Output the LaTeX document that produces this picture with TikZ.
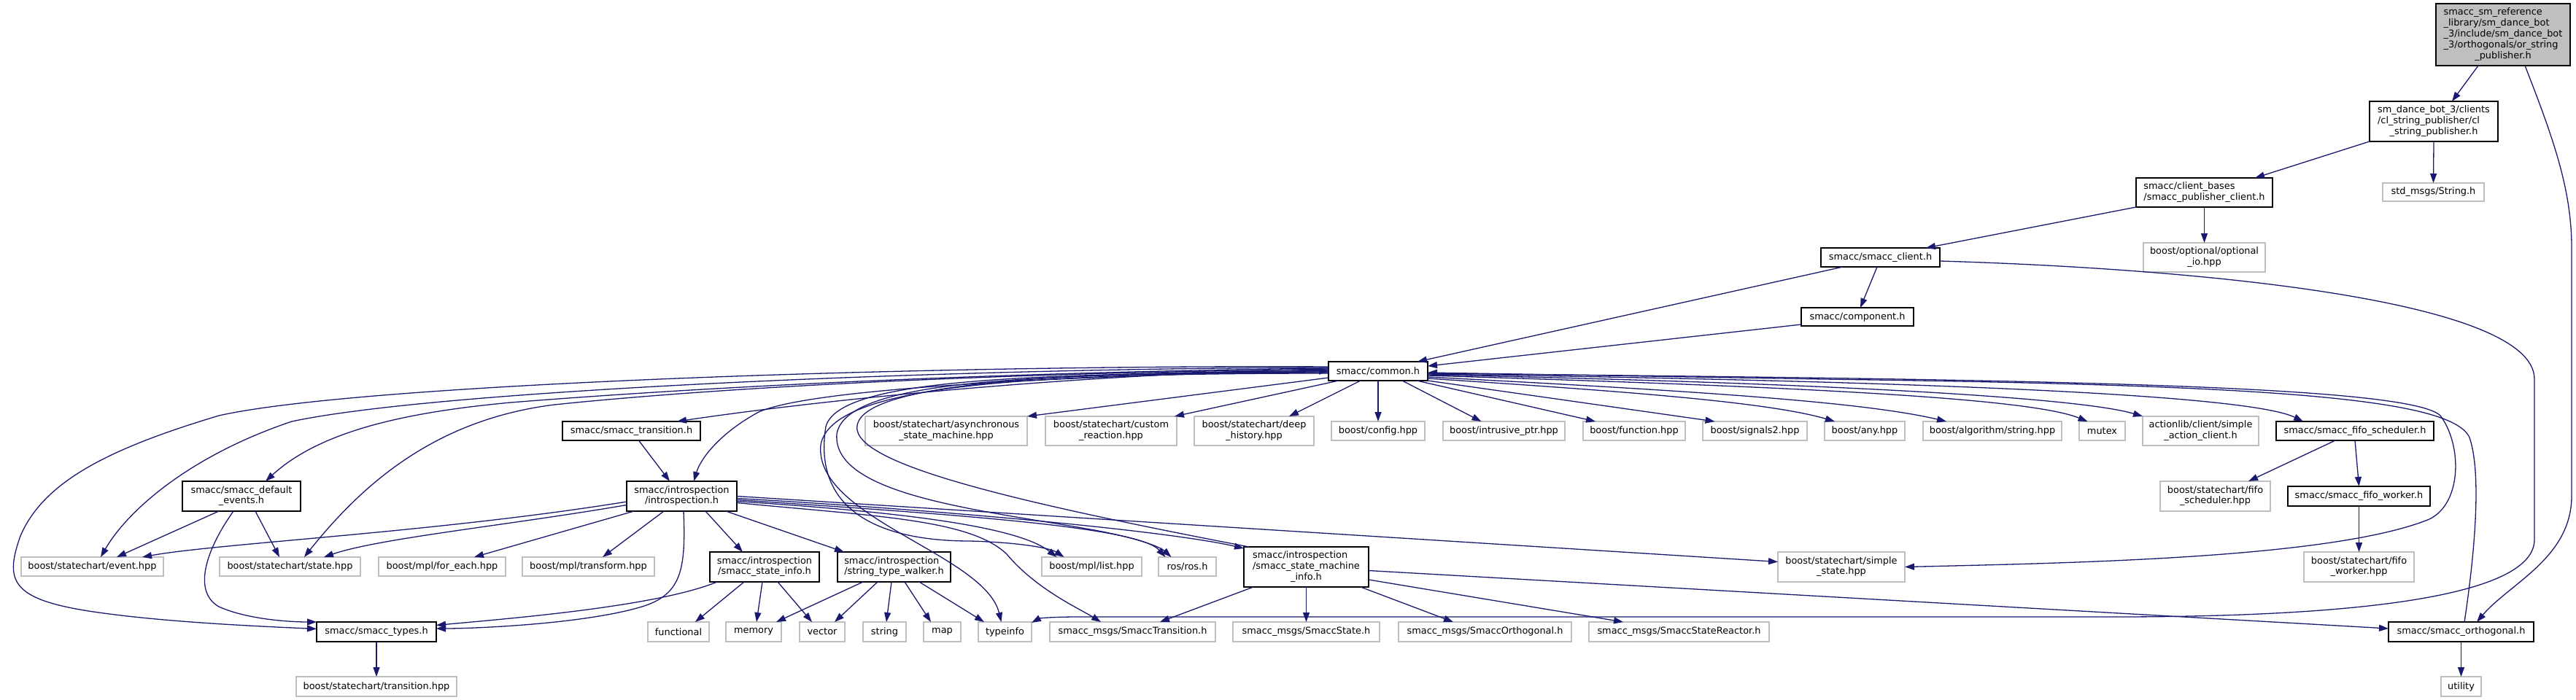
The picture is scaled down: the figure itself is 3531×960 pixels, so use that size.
\documentclass[tikz,border=0pt]{standalone}
\usepackage{fontspec}
\setmainfont{DejaVu Sans}
\usetikzlibrary{arrows.meta}
\definecolor{edgec}{HTML}{191970}
\definecolor{grayb}{HTML}{BFBFBF}
\definecolor{rootfill}{HTML}{BFBFBF}
\newcommand\nodefont{\fontsize{12.9}{14.8}\selectfont}
\newcommand\mlab[2]{\begin{tabular}{@{}l@{}}#1\\\multicolumn{1}{@{}c@{}}{#2}\end{tabular}}
\newcommand\mknode[7]{\node[#6, minimum width={(#4)-(#2)}, minimum height={(#5)-(#3)}] (#1) at ({((#2)+(#4))/2},{((#3)+(#5))/2}) {#7};}
\tikzset{
  edge/.style={draw=edgec, line width=1.3pt, -{Triangle[length=13pt,width=9pt]}},
  doc/.style={draw=black, fill=white, line width=1.3pt, inner sep=0pt, outer sep=0pt, font=\nodefont},
  ext/.style={draw=grayb, fill=white, line width=1.3pt, inner sep=0pt, outer sep=0pt, font=\nodefont},
  rootn/.style={doc, fill=rootfill}
}
\begin{document}
\begin{tikzpicture}[x=1pt,y=-1pt]
\useasboundingbox (0,0) rectangle (3531,960);
\fill[white] (0,0) rectangle (3531,960);
% rank 0-5
\mknode{root}{3339}{5}{3523}{90}{rootn}{\mlab{smacc\_sm\_reference\\\_library/sm\_dance\_bot\\\_3/include/sm\_dance\_bot\\\_3/orthogonals/or\_string}{\_publisher.h}}
\mknode{clpub}{3248}{139}{3424}{194}{doc}{\mlab{sm\_dance\_bot\_3/clients\\/cl\_string\_publisher/cl}{\_string\_publisher.h}}
\mknode{pubcl}{2928}{244}{3115}{284}{doc}{\mlab{smacc/client\_bases}{/smacc\_publisher\_client.h}}
\mknode{stdstr}{3266}{251}{3405}{276}{ext}{std\_msgs/String.h}
\mknode{client}{2496}{340}{2659}{366}{doc}{smacc/smacc\_client.h}
\mknode{optio}{2938}{333}{3105}{373}{ext}{\mlab{boost/optional/optional}{\_io.hpp}}
\mknode{comp}{2469}{422}{2623}{447}{doc}{smacc/component.h}
\mknode{common}{1821}{496}{1957}{522}{doc}{smacc/common.h}
% rank 6
\mknode{trans}{771}{578}{960}{604}{doc}{smacc/smacc\_transition.h}
\mknode{async}{1186}{571}{1408}{611}{ext}{\mlab{boost/statechart/asynchronous}{\_state\_machine.hpp}}
\mknode{custom}{1433}{571}{1613}{611}{ext}{\mlab{boost/statechart/custom}{\_reaction.hpp}}
\mknode{deep}{1637}{571}{1801}{611}{ext}{\mlab{boost/statechart/deep}{\_history.hpp}}
\mknode{config}{1825}{578}{1953}{604}{ext}{boost/config.hpp}
\mknode{intr}{1978}{578}{2145}{604}{ext}{boost/intrusive\_ptr.hpp}
\mknode{func}{2170}{578}{2310}{604}{ext}{boost/function.hpp}
\mknode{sig}{2334}{578}{2477}{604}{ext}{boost/signals2.hpp}
\mknode{any}{2501}{578}{2611}{604}{ext}{boost/any.hpp}
\mknode{algo}{2636}{578}{2826}{604}{ext}{boost/algorithm/string.hpp}
\mknode{mutex}{2850}{578}{2913}{604}{ext}{mutex}
\mknode{actl}{2937}{571}{3096}{611}{ext}{\mlab{actionlib/client/simple}{\_action\_client.h}}
\mknode{fifos}{3120}{578}{3336}{604}{doc}{smacc/smacc\_fifo\_scheduler.h}
% rank 7
\mknode{defev}{250}{660}{412}{701}{doc}{\mlab{smacc/smacc\_default}{\_events.h}}
\mknode{intro}{859}{660}{1010}{701}{doc}{\mlab{smacc/introspection}{/introspection.h}}
\mknode{fifosh}{2961}{660}{3112}{701}{ext}{\mlab{boost/statechart/fifo}{\_scheduler.hpp}}
\mknode{fifow}{3136}{667}{3331}{694}{doc}{smacc/smacc\_fifo\_worker.h}
% rank 8
\mknode{event}{29}{764}{224}{790}{ext}{boost/statechart/event.hpp}
\mknode{state}{301}{764}{494}{790}{ext}{boost/statechart/state.hpp}
\mknode{foreach}{519}{764}{693}{790}{ext}{boost/mpl/for\_each.hpp}
\mknode{transf}{716}{764}{897}{790}{ext}{boost/mpl/transform.hpp}
\mknode{sinfo}{973}{757}{1123}{798}{doc}{\mlab{smacc/introspection}{/smacc\_state\_info.h}}
\mknode{stw}{1148}{757}{1303}{798}{doc}{\mlab{smacc/introspection}{/string\_type\_walker.h}}
\mknode{list}{1428}{764}{1565}{790}{ext}{boost/mpl/list.hpp}
\mknode{ros}{1588}{764}{1667}{790}{ext}{ros/ros.h}
\mknode{smi}{1705}{750}{1876}{805}{doc}{\mlab{smacc/introspection\\/smacc\_state\_machine}{\_info.h}}
\mknode{simple}{2437}{757}{2611}{798}{ext}{\mlab{boost/statechart/simple}{\_state.hpp}}
\mknode{fifowh}{3158}{757}{3309}{798}{ext}{\mlab{boost/statechart/fifo}{\_worker.hpp}}
% rank 9
\mknode{types}{434}{853}{598}{880}{doc}{smacc/smacc\_types.h}
\mknode{functional}{888}{853}{972}{880}{ext}{functional}
\mknode{memory}{995}{853}{1071}{880}{ext}{memory}
\mknode{vector}{1096}{853}{1158}{880}{ext}{vector}
\mknode{string}{1183}{853}{1242}{880}{ext}{string}
\mknode{map}{1266}{853}{1317}{880}{ext}{map}
\mknode{typeinfo}{1341}{853}{1414}{880}{ext}{typeinfo}
\mknode{msgT}{1439}{853}{1666}{880}{ext}{smacc\_msgs/SmaccTransition.h}
\mknode{msgS}{1690}{853}{1891}{880}{ext}{smacc\_msgs/SmaccState.h}
\mknode{msgO}{1917}{853}{2154}{880}{ext}{smacc\_msgs/SmaccOrthogonal.h}
\mknode{msgR}{2178}{853}{2425}{880}{ext}{smacc\_msgs/SmaccStateReactor.h}
\mknode{orth}{3274}{853}{3473}{880}{doc}{smacc/smacc\_orthogonal.h}
% rank 10
\mknode{transhpp}{406}{928}{626}{955}{ext}{boost/statechart/transition.hpp}
\mknode{utility}{3346}{928}{3401}{955}{ext}{utility}

% ---- edges: top part
\draw[edge] ([xshift=-34pt]root.south) -- ([xshift=25pt]clpub.north);
\draw[edge] ([xshift=30pt]root.south) .. controls (3500,190) and (3525,260) .. (3525,340) -- (3525,680) .. controls (3525,765) and (3440,800) .. ([xshift=21.5pt]orth.north);
\draw[edge] (clpub.south west) -- ([xshift=69.5pt]pubcl.north);
\draw[edge] (clpub.south) -- (stdstr.north);
\draw[edge] (pubcl.south west) -- ([xshift=62.5pt]client.north);
\draw[edge] (pubcl.south) -- (optio.north);
\draw[edge] ([xshift=-4.5pt]client.south) -- ([xshift=4pt]comp.north);
\draw[edge] ([xshift=-51.5pt]client.south) -- ([xshift=54pt]common.north);
\draw[edge] ([yshift=2pt]comp.south west) -- ([yshift=7pt]common.east);
\draw[edge] ([yshift=-5pt]client.east) .. controls (3000,368) and (3474,410) .. (3474,520) -- (3474,740) .. controls (3474,830) and (3150,846) .. (2900,846) -- (1480,846) .. controls (1440,846) and (1425,848) .. ([yshift=-1pt]typeinfo.north east);
\draw[edge] ([xshift=4.5pt]orth.north) .. controls (3392,760) and (3402,650) .. (3385,600) .. controls (3360,545) and (3100,528) .. (2500,520) -- ([yshift=-2pt]common.east);
% common -> right
\draw[edge] ([yshift=-3pt]common.east) .. controls (2700,520) and (3300,525) .. (3345,570) .. controls (3375,610) and (3375,690) .. (3330,712) .. controls (3200,765) and (2850,772) .. (simple.east);
\draw[edge] ([yshift=-4pt]common.east) .. controls (2600,522) and (3080,540) .. ([xshift=-71pt]fifos.north);
\draw[edge] ([yshift=-5pt]common.east) .. controls (2500,525) and (2850,545) .. (actl.north west);
\draw[edge] ([yshift=-6pt]common.east) .. controls (2450,530) and (2780,545) .. ([xshift=-20pt]mutex.north);
\draw[edge] ([yshift=-8pt]common.east) .. controls (2300,535) and (2550,550) .. ([xshift=-63pt]algo.north);
\draw[edge] ([yshift=-10pt]common.east) .. controls (2200,535) and (2420,550) .. ([xshift=-41pt]any.north);
\draw[edge] (common.south east) -- ([xshift=-55pt]sig.north);
\draw[edge] ([xshift=53pt]common.south) -- ([xshift=-53pt]func.north);
\draw[edge] ([xshift=33pt]common.south) -- ([xshift=-31pt]intr.north);
\draw[edge] (common.south) -- (config.north);
\draw[edge] ([xshift=-24pt]common.south) -- ([xshift=48pt]deep.north);
\draw[edge] ([xshift=-54pt]common.south) -- ([xshift=-3pt]custom.north east);
\draw[edge] ([yshift=4pt]common.south west) -- (async.north east);
% common -> left
\draw[edge] ([yshift=3pt]common.west) .. controls (1500,512) and (1150,545) .. ([xshift=62.5pt]trans.north);
\draw[edge] ([yshift=1pt]common.west) .. controls (1500,515) and (1120,530) .. (1040,565) .. controls (985,595) and (960,630) .. ([xshift=16.5pt]intro.north);
\draw[edge] ([yshift=4pt]common.west) .. controls (1400,510) and (1000,528) .. (700,552) .. controls (560,565) and (440,590) .. ([xshift=33pt]defev.north);
\draw[edge] ([yshift=2pt]common.west) .. controls (1400,510) and (1000,530) .. (760,555) .. controls (600,575) and (500,660) .. ([xshift=19.5pt]state.north);
\draw[edge] ([yshift=5pt]common.west) .. controls (1300,505) and (600,535) .. (400,578) .. controls (260,625) and (175,700) .. ([xshift=11.5pt]event.north);
\draw[edge] ([yshift=6pt]common.west) .. controls (1300,500) and (500,525) .. (300,570) .. controls (150,615) and (60,660) .. (28,735) .. controls (5,800) and (15,825) .. (150,842) .. controls (250,855) and (380,860) .. ([yshift=4pt]types.west);
\draw[edge] ([yshift=-1pt]common.west) .. controls (1400,512) and (1150,520) .. (1132,585) .. controls (1115,690) and (1190,742) .. (1330,742) .. controls (1400,744) and (1440,752) .. ([xshift=-38pt]list.north);
\draw[edge] ([yshift=-2pt]common.west) .. controls (1400,512) and (1160,522) .. (1147,595) .. controls (1140,680) and (1350,700) .. (1500,727) .. controls (1560,738) and (1590,750) .. ([xshift=-22pt]ros.north);
\draw[edge] ([yshift=-3pt]common.west) .. controls (1400,512) and (1140,528) .. (1125,610) .. controls (1115,710) and (1350,760) .. ([xshift=-5pt]typeinfo.north);
\draw[edge] ([xshift=7pt]smi.north west) .. controls (1400,690) and (1185,640) .. (1175,590) .. controls (1165,525) and (1450,510) .. (common.west);
% introspection.h
\draw[edge] ([yshift=-7.5pt]intro.west) .. controls (600,730) and (300,745) .. ([xshift=68.5pt]event.north);
\draw[edge] ([yshift=-12pt]intro.west) .. controls (700,720) and (520,738) .. ([xshift=46.5pt]state.north);
\draw[edge] ([xshift=10pt]intro.south west) -- ([xshift=44pt]foreach.north);
\draw[edge] ([xshift=-24.5pt]intro.south) -- ([xshift=19.5pt]transf.north);
\draw[edge] ([xshift=2.5pt]intro.south) .. controls (940,780) and (935,815) .. (880,832) .. controls (800,856) and (650,862) .. ([yshift=4.5pt]types.east);
\draw[edge] ([xshift=32.5pt]intro.south) -- ([xshift=-30pt]sinfo.north);
\draw[edge] ([xshift=-15pt]intro.south east) -- ([xshift=9pt]stw.north west);
\draw[edge] ([yshift=-7pt]intro.east) .. controls (1200,700) and (1390,718) .. ([xshift=-48pt]list.north);
\draw[edge] ([yshift=-5pt]intro.east) .. controls (1300,705) and (1560,722) .. ([xshift=-30pt]ros.north);
\draw[edge] ([yshift=-9pt]intro.east) .. controls (1200,708) and (1330,712) .. (1380,760) .. controls (1420,808) and (1480,835) .. ([xshift=-43.5pt]msgT.north);
\draw[edge] ([yshift=-3pt]intro.east) .. controls (1300,700) and (1600,728) .. ([yshift=-2pt]smi.north west);
\draw[edge] (intro.east) -- ([yshift=7pt]simple.west);
% default events, transition
\draw[edge] ([xshift=-31pt]defev.south) -- ([xshift=33.5pt]event.north);
\draw[edge] ([xshift=19pt]defev.south) -- ([xshift=-14.5pt]state.north);
\draw[edge] ([xshift=-11pt]defev.south) .. controls (285,750) and (262,810) .. (300,832) .. controls (340,850) and (400,853) .. (types.north west);
\draw[edge] ([xshift=10pt]trans.south) -- ([xshift=-16.5pt]intro.north);
% state info, walker
\draw[edge] ([xshift=10pt]sinfo.south west) .. controls (900,832) and (700,848) .. ([yshift=9pt]types.east);
\draw[edge] ([xshift=-28pt]sinfo.south) -- ([xshift=23pt]functional.north);
\draw[edge] ([xshift=-3pt]sinfo.south) -- ([xshift=4pt]memory.north);
\draw[edge] ([xshift=18pt]sinfo.south) -- ([xshift=-14pt]vector.north);
\draw[edge] ([xshift=-42.5pt]stw.south) -- ([xshift=31pt]memory.north);
\draw[edge] ([xshift=-22.5pt]stw.south) -- ([xshift=17pt]vector.north);
\draw[edge] ([xshift=-3.5pt]stw.south) -- ([xshift=2.5pt]string.north);
\draw[edge] ([xshift=14.5pt]stw.south) -- ([xshift=-15.5pt]map.north);
\draw[edge] ([xshift=34.5pt]stw.south) -- ([xshift=-28.5pt]typeinfo.north);
% state machine info
\draw[edge] ([xshift=13pt]smi.south west) -- ([xshift=37.5pt]msgT.north);
\draw[edge] (smi.south) -- (msgS.north);
\draw[edge] ([xshift=74.5pt]smi.south) -- ([xshift=-43.5pt]msgO.north);
\draw[edge] ([yshift=-17.5pt]smi.east) -- ([xshift=-76.5pt]msgR.north);
\draw[edge] ([yshift=-5pt]smi.east) -- ([yshift=4.5pt]orth.west);
% fifo, bottom
\draw[edge] ([xshift=-27pt]fifos.south) -- ([xshift=45.5pt]fifosh.north);
\draw[edge] (fifos.south) -- (fifow.north);
\draw[edge] (fifow.south) -- (fifowh.north);
\draw[edge] (types.south) -- (transhpp.north);
\draw[edge] (orth.south) -- (utility.north);
\end{tikzpicture}
\end{document}
